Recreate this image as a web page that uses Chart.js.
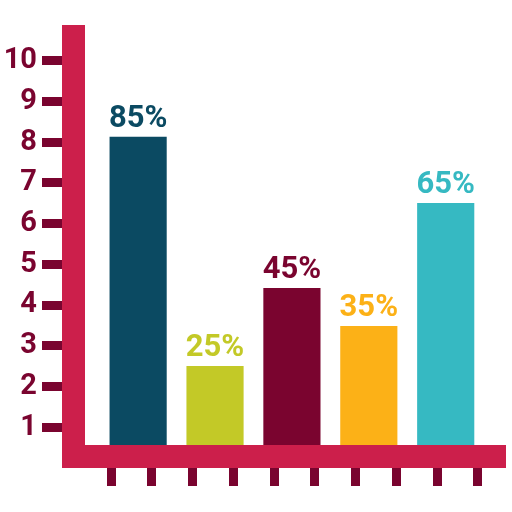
<!DOCTYPE html>
<html><head><meta charset="utf-8">
<script src="https://cdn.jsdelivr.net/npm/chart.js@4"></script>
<style>html,body{margin:0;padding:0;background:#fff}</style>
</head><body>
<canvas id="c" width="512" height="512"></canvas>
<script>
// ---- data ----
const categories = ['Bar 1', 'Bar 2', 'Bar 3', 'Bar 4', 'Bar 5'];
const categoryPositions = [1, 2, 3, 4, 5];
const values = [8.13, 2.5, 4.41, 3.48, 6.5];
const valueLabels = ['85%', '25%', '45%', '35%', '65%'];
const barColors = ['#0b4a62', '#c3c927', '#7a042f', '#fcb117', '#36b9c2'];
const yTicks = [1, 2, 3, 4, 5, 6, 7, 8, 9, 10];
const rulerTicks = [1, 2, 3, 4, 5, 6, 7, 8, 9, 10];

const AXIS_COLOR = '#cc1f4b';
const TICK_COLOR = '#7a042f';
const AXIS_THICK = 23;

const axisBars = {
  id: 'axisBars',
  afterDatasetsDraw(chart) {
    const { ctx, chartArea: a } = chart;
    ctx.save();
    ctx.fillStyle = AXIS_COLOR;
    ctx.fillRect(a.left, a.top, AXIS_THICK, a.bottom - a.top);
    ctx.fillRect(a.left, a.bottom - AXIS_THICK, a.right - a.left, AXIS_THICK);
    ctx.restore();
  }
};

const barValueLabels = {
  id: 'barValueLabels',
  afterDatasetsDraw(chart) {
    const { ctx } = chart;
    const meta = chart.getDatasetMeta(0);
    ctx.save();
    ctx.font = 'bold 31px Roboto';
    ctx.textAlign = 'center';
    ctx.textBaseline = 'alphabetic';
    meta.data.forEach((el, i) => {
      ctx.fillStyle = barColors[i];
      ctx.fillText(valueLabels[i], el.x, el.y - 10);
    });
    ctx.restore();
  }
};

new Chart(document.getElementById('c'), {
  type: 'bar',
  data: {
    labels: categories,
    datasets: [{
      data: categories.map((c, i) => ({ x: categoryPositions[i], y: values[i] })),
      backgroundColor: barColors,
      borderWidth: 0,
      barThickness: 56.5
    }]
  },
  options: {
    responsive: false,
    animation: false,
    layout: { padding: { top: 25, right: 6, left: 0, bottom: 0 } },
    plugins: { legend: { display: false }, tooltip: { enabled: false } },
    scales: {
      x: {
        type: 'linear',
        min: 0.01,
        max: 5.784,
        offset: false,
        grid: { offset: false },
        display: false,
        afterBuildTicks(s) { s.ticks = categoryPositions.map(v => ({ value: v })); }
      },
      x2: {
        type: 'linear',
        position: 'bottom',
        min: -0.21,
        max: 10.694,
        offset: false,
        afterBuildTicks(s) { s.ticks = rulerTicks.map(v => ({ value: v })); },
        afterFit(s) { s.height = 44; },
        ticks: { display: false },
        border: { display: false },
        grid: {
          offset: false,
          drawOnChartArea: false,
          drawTicks: true,
          tickLength: 18,
          tickWidth: 9,
          tickColor: TICK_COLOR
        }
      },
      y: {
        type: 'linear',
        min: 0,
        max: 10.88,
        afterBuildTicks(s) { s.ticks = yTicks.map(v => ({ value: v })); },
        afterFit(s) { s.width = 62; },
        border: { display: false },
        grid: {
          drawOnChartArea: false,
          drawTicks: true,
          tickLength: 20,
          tickWidth: 9,
          tickColor: TICK_COLOR
        },
        ticks: {
          color: TICK_COLOR,
          padding: 5,
          font: { family: 'Roboto', weight: 'bold', size: 29 },
          callback: v => String(v)
        }
      }
    }
  },
  plugins: [axisBars, barValueLabels]
});
</script>
</body></html>
